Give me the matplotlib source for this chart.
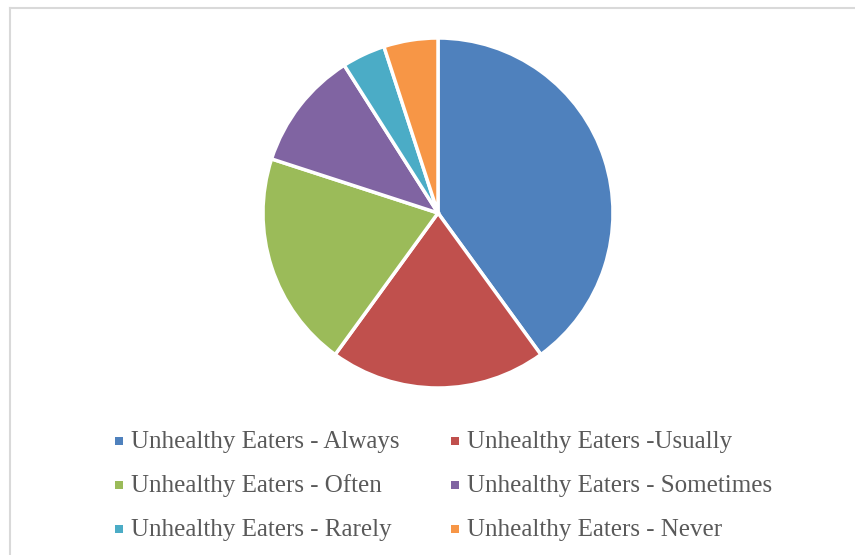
import matplotlib.pyplot as plt
from matplotlib.patches import Rectangle

labels = [
    "Unhealthy Eaters - Always",
    "Unhealthy Eaters -Usually",
    "Unhealthy Eaters - Often",
    "Unhealthy Eaters - Sometimes",
    "Unhealthy Eaters - Rarely",
    "Unhealthy Eaters - Never",
]
shares = [40, 20, 20, 11, 4, 5]
colors = ["#4F81BD", "#C0504D", "#9BBB59", "#8064A2", "#4BACC6", "#F79646"]

W, H = 855, 555
fig = plt.figure(figsize=(W / 100, H / 100), dpi=100)

# pie axes: centre (438, 213) px, radius 175 px
cx, cy, r = 438, 213, 175
ax = fig.add_axes([(cx - r) / W, (H - cy - r) / H, 2 * r / W, 2 * r / H])
ax.pie(shares, colors=colors, startangle=90, counterclock=False,
       wedgeprops=dict(edgecolor="white", linewidth=2.5))
ax.set_aspect("equal")
ax.set_xlim(-1, 1)
ax.set_ylim(-1, 1)

# chart border (only left and top visible in the crop)
fig.add_artist(plt.Line2D([9.5 / W, 9.5 / W], [0, 1 - 7.5 / H], color="#D9D9D9", lw=1.5))
fig.add_artist(plt.Line2D([9.5 / W, 1], [1 - 7.5 / H, 1 - 7.5 / H], color="#D9D9D9", lw=1.5))

# legend, two columns
col_x = [119, 455]
row_y = [441, 485, 529]
for i, (lab, col) in enumerate(zip(labels, colors)):
    mx = col_x[i % 2]
    my = row_y[i // 2]
    fig.add_artist(Rectangle(((mx - 4) / W, 1 - (my + 4) / H), 8 / W, 8 / H,
                             transform=fig.transFigure, color=col, lw=0))
    fig.text((mx + 12) / W, 1 - (my + 1) / H, lab, fontsize=18, color="#595959",
             family="Liberation Serif", va="center", ha="left")

fig.savefig("out.png", dpi=100)
